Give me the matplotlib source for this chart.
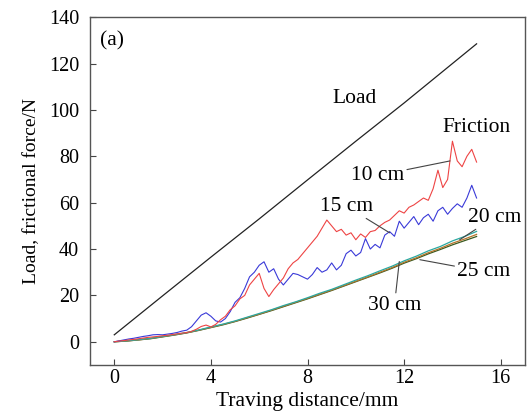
import numpy as np
import matplotlib.pyplot as plt

plt.rcParams['font.family'] = ['Liberation Serif', 'DejaVu Serif']

# load curve (mm, N)
x_load = [0, 2, 4, 6, 8, 10, 12, 14, 15]
load = [3.0, 19.8, 36.5, 53.0, 69.8, 86.5, 103.0, 120.0, 128.5]

# friction curves sampled every 0.2 mm
x_fine = np.round(np.arange(0, 15.01, 0.2), 2)
f_10cm = [0.0, 0.3, 0.5, 0.8, 1.0, 1.3, 1.6, 1.9, 2.1, 2.3,
          2.6, 2.8, 3.1, 3.4, 3.7, 4.0, 4.5, 5.4, 6.6, 7.2,
          6.4, 7.5, 9.5, 11.0, 13.8, 15.5, 18.5, 20.0, 24.5, 27.0,
          29.5, 23.0, 19.5, 22.5, 25.0, 27.5, 31.5, 34.0, 35.5, 38.0,
          40.5, 43.0, 45.5, 49.0, 52.5, 50.0, 47.5, 48.5, 46.0, 47.0,
          44.0, 46.5, 45.0, 47.5, 48.0, 50.0, 51.5, 52.5, 54.5, 56.5,
          55.5, 58.0, 59.0, 60.5, 62.0, 61.0, 66.0, 74.0, 66.5, 70.0,
          86.5, 78.0, 75.5, 80.0, 83.0, 77.5]
f_15cm = [0.0, 0.4, 0.8, 1.2, 1.5, 1.9, 2.3, 2.6, 3.0, 3.1,
          3.0, 3.3, 3.6, 4.0, 4.6, 5.0, 6.5, 9.0, 11.5, 12.5,
          11.0, 9.0, 8.5, 10.0, 13.0, 17.0, 19.0, 23.0, 28.0, 30.0,
          33.0, 34.5, 30.0, 31.5, 27.0, 24.5, 27.0, 29.5, 29.0, 28.0,
          27.0, 29.0, 32.0, 30.0, 31.0, 34.0, 31.0, 33.0, 38.0, 39.5,
          37.0, 38.5, 44.5, 40.0, 42.0, 40.5, 46.0, 47.5, 45.5, 52.0,
          49.0, 51.5, 54.0, 50.5, 53.5, 55.0, 52.0, 56.5, 58.0, 55.0,
          57.5, 59.5, 58.0, 62.0, 67.5, 62.0]

# smoother curves every 0.5 mm
x_coarse = np.arange(0, 15.01, 0.5)
f_20cm = [0.0, 0.4, 0.9, 1.5, 2.3, 3.1, 4.0, 5.1, 6.4, 7.6,
          9.0, 10.6, 12.2, 13.8, 15.6, 17.2, 19.0, 20.9, 22.6, 24.6,
          26.6, 28.5, 30.6, 32.6, 34.9, 36.9, 39.2, 41.1, 43.5, 45.4,
          47.6]
f_25cm = [0.0, 0.3, 0.8, 1.4, 2.2, 3.0, 3.9, 5.0, 6.2, 7.5,
          8.8, 10.4, 11.9, 13.6, 15.3, 17.0, 18.7, 20.5, 22.3, 24.2,
          26.1, 28.0, 30.0, 32.0, 34.3, 36.2, 38.4, 40.3, 42.5, 44.3,
          46.3]
f_30cm = [0.0, 0.3, 0.8, 1.3, 2.1, 2.9, 3.8, 4.9, 6.1, 7.3,
          8.7, 10.2, 11.8, 13.4, 15.1, 16.8, 18.5, 20.3, 22.1, 24.0,
          25.9, 27.8, 29.7, 31.7, 33.9, 35.8, 37.9, 39.8, 41.8, 43.6,
          45.4]


def main():
    fig = plt.figure(figsize=(5.27, 4.19), dpi=100)
    ax = fig.add_axes([0.171, 0.129, 0.825, 0.830])

    ax.plot(x_load, load, color='#222222', lw=0.9)
    ax.plot(x_coarse, f_30cm, color='#3a5a20', lw=0.9)
    ax.plot(x_coarse, f_25cm, color='#b5742a', lw=0.9)
    ax.plot(x_coarse, f_20cm, color='#2aa8a0', lw=0.9)
    ax.plot(x_fine, f_15cm, color='#3a3ad8', lw=0.8)
    ax.plot(x_fine, f_10cm, color='#ee4444', lw=0.8)

    ax.set_xlim(-1, 17)
    ax.set_ylim(-10, 140)
    ax.set_xticks([0, 4, 8, 12, 16])
    ax.set_yticks([0, 20, 40, 60, 80, 100, 120, 140])
    ax.tick_params(direction='in', length=4, width=0.8, labelsize=14.5,
                   color='#444444')
    ax.tick_params(axis='y', pad=8)
    ax.tick_params(axis='x', pad=3)
    for s in ax.spines.values():
        s.set_color('#555555')
        s.set_linewidth(1.0)

    ax.set_xlabel('Traving distance/mm', fontsize=15.5, labelpad=3)
    ax.set_ylabel('Load, frictional force/N', fontsize=14, labelpad=6)

    fs = 15.5
    ax.text(-0.6, 130, '(a)', fontsize=fs, va='center', ha='left')
    ax.text(9.95, 105, 'Load', fontsize=fs, ha='center', va='center')
    ax.text(15.0, 92.6, 'Friction', fontsize=fs, ha='center', va='center')

    lc = dict(arrowstyle='-', color='#444444', lw=0.8, shrinkA=0, shrinkB=0)
    ax.annotate('10 cm', xy=(13.9, 78), xytext=(10.9, 71.7), fontsize=fs,
                ha='center', va='center', arrowprops=lc)
    ax.annotate('15 cm', xy=(11.4, 47), xytext=(9.6, 58.5), fontsize=fs,
                ha='center', va='center', arrowprops=lc)
    ax.annotate('20 cm', xy=(14.3, 44), xytext=(15.75, 53.8), fontsize=fs,
                ha='center', va='center', arrowprops=lc)
    ax.annotate('25 cm', xy=(12.65, 35.4), xytext=(15.3, 30.3), fontsize=fs,
                ha='center', va='center', arrowprops=lc)
    ax.annotate('30 cm', xy=(11.8, 34.6), xytext=(11.6, 15.8), fontsize=fs,
                ha='center', va='center', arrowprops=lc)

    fig.savefig('out.png', dpi=100)


if __name__ == "__main__":
    main()
